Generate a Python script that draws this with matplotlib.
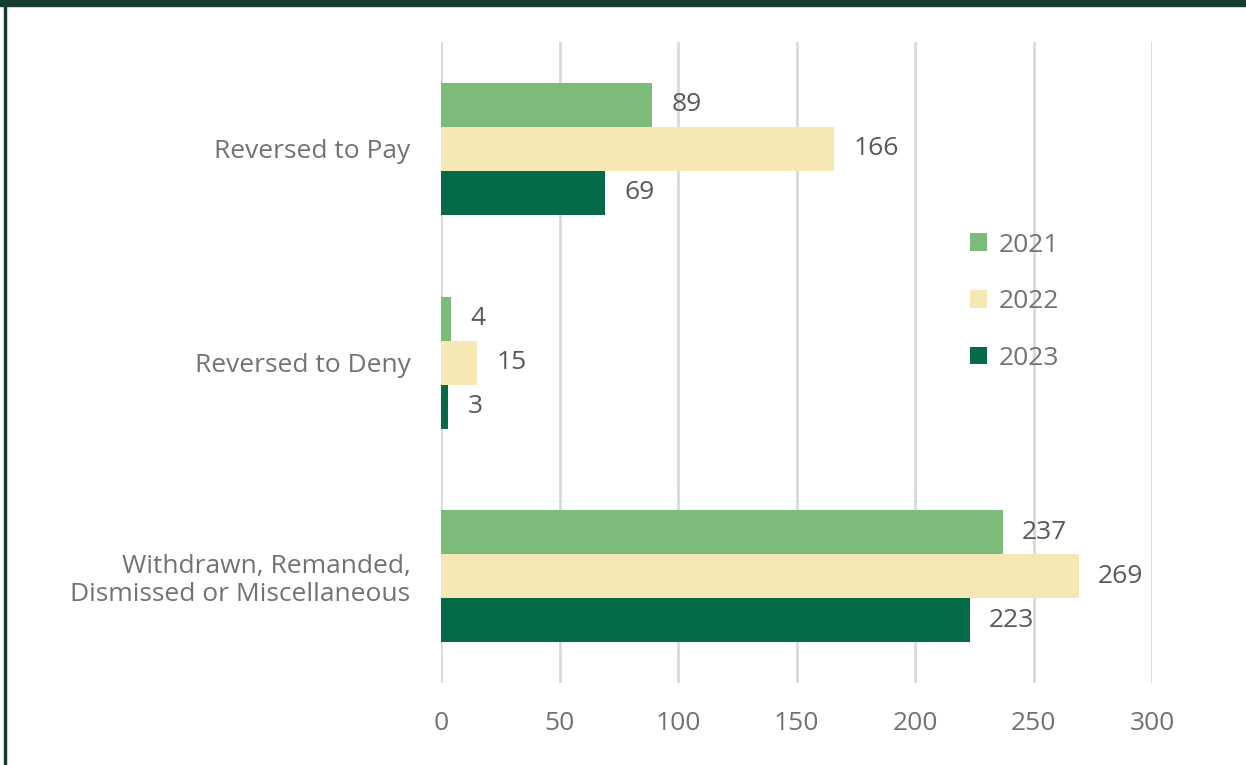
import numpy as np
import matplotlib.pyplot as plt
from matplotlib.patches import Rectangle

categories = ['Reversed to Pay', 'Reversed to Deny',
              'Withdrawn, Remanded,\nDismissed or Miscellaneous']
years = ['2021', '2022', '2023']
v2021 = [89, 4, 237]
v2022 = [166, 15, 269]
v2023 = [69, 3, 223]
colors = ['#7cbb7a', '#f5e8b4', '#056a46']
text_col = '#767171'

plt.rcParams['font.family'] = ['Open Sans', 'DejaVu Sans']

fig = plt.figure(figsize=(12.46, 7.65), dpi=100)
ax = fig.add_axes([0.354, 0.107, 0.5706, 0.838])

y = np.arange(len(categories))
h = 0.206
series = [v2021, v2022, v2023]
for i, (vals, yr, c) in enumerate(zip(series, years, colors)):
    pos = y + (i - 1) * h
    ax.barh(pos, vals, height=h, color=c, label=yr, zorder=2)
    for p, v in zip(pos, vals):
        ax.annotate(str(v), (v, p), xytext=(14, 0), textcoords='offset points',
                    va='center', ha='left', fontsize=19, color='#595959')

ax.set_xlim(0, 300)
ax.set_ylim(2.5, -0.5)
ax.set_xticks(range(0, 301, 50))
ax.set_yticks(y)
ax.set_yticklabels(categories, ha='right', linespacing=1.15)
ax.tick_params(axis='both', length=0, labelsize=19, labelcolor=text_col)
ax.tick_params(axis='y', pad=22)
ax.tick_params(axis='x', pad=20)
ax.grid(axis='x', color='#d9d9d9', linewidth=2, zorder=0)
for s in ax.spines.values():
    s.set_visible(False)

leg = ax.legend(loc='upper left', bbox_to_anchor=(0.71, 0.74), frameon=False,
                fontsize=19, labelspacing=1.2, handlelength=0.65, handleheight=0.65,
                handletextpad=0.45)
for t in leg.get_texts():
    t.set_color(text_col)

# frame decoration
fig.patches.append(Rectangle((0, 1 - 6 / 765), 1, 6 / 765, transform=fig.transFigure,
                             color='#143d2e', zorder=5))
fig.patches.append(Rectangle((4 / 1246, 0), 2 / 1246, 1, transform=fig.transFigure,
                             color='#143d2e', zorder=5))

fig.savefig('out.png', dpi=100)
